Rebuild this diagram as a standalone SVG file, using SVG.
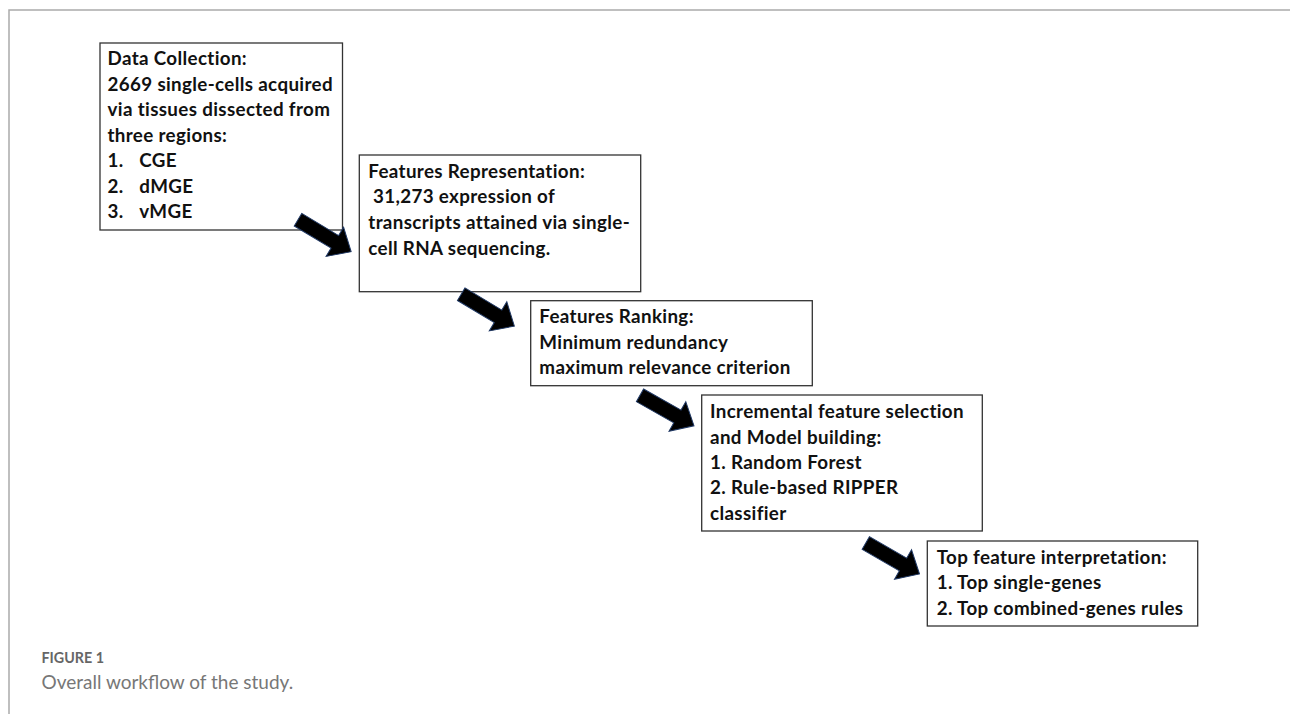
<svg xmlns="http://www.w3.org/2000/svg" width="1290" height="714" viewBox="0 0 1290 714">
<style>
.box{fill:#fff;stroke:#333;stroke-width:1.3}
.t{font-family:Lato,"Liberation Sans",sans-serif;font-weight:700;font-size:18.8px;letter-spacing:0.35px;fill:#111}
.arr{fill:#000;stroke:#1f3864;stroke-width:1;stroke-linejoin:miter}
.frame{stroke:#aaa;stroke-width:1.5;fill:none}
.cap1{font-family:Lato,"Liberation Sans",sans-serif;font-weight:700;font-size:14.3px;fill:#666}
.cap2{font-family:Lato,"Liberation Sans",sans-serif;font-weight:400;font-size:19px;fill:#777}
</style>
<defs>
<path id="arrow" class="arr" d="M0,-7.3 L43,-7.3 L43,-17 L62,0 L43,17 L43,7.3 L0,7.3 Z"/>
</defs>
<path class="frame" d="M1290,10 L9,10 L9,714"/>
<g id="node1">
<rect class="box" x="100" y="43" width="242.5" height="187"/>
<text class="t" x="107.5" y="65.3">Data Collection:</text>
<text class="t" x="107.5" y="90.7">2669 single-cells acquired</text>
<text class="t" x="107.5" y="116.3">via tissues dissected from</text>
<text class="t" x="107.5" y="141.7">three regions:</text>
<text class="t" x="107.5" y="167">1.</text><text class="t" x="139.3" y="167">CGE</text>
<text class="t" x="107.5" y="192.5">2.</text><text class="t" x="139.3" y="192.5">dMGE</text>
<text class="t" x="107.5" y="218">3.</text><text class="t" x="139.3" y="218">vMGE</text>
</g>
<g id="node2">
<rect class="box" x="359.3" y="155" width="281.4" height="136.7"/>
<text class="t" x="368.3" y="177.7">Features Representation:</text>
<text class="t" x="373" y="203.3">31,273 expression of</text>
<text class="t" x="368.3" y="229.3">transcripts attained via single-</text>
<text class="t" x="368.3" y="254.5">cell RNA sequencing.</text>
</g>
<g id="node3">
<rect class="box" x="530.7" y="300.7" width="281.6" height="85"/>
<text class="t" x="539.3" y="323.3">Features Ranking:</text>
<text class="t" x="539.3" y="349">Minimum redundancy</text>
<text class="t" x="539.3" y="374">maximum relevance criterion</text>
</g>
<g id="node4">
<rect class="box" x="701.7" y="395" width="280.6" height="136"/>
<text class="t" x="710" y="418.3">Incremental feature selection</text>
<text class="t" x="710" y="443.5">and Model building:</text>
<text class="t" x="710" y="469">1. Random Forest</text>
<text class="t" x="710" y="494.3">2. Rule-based RIPPER</text>
<text class="t" x="710" y="520">classifier</text>
</g>
<g id="node5">
<rect class="box" x="927.3" y="541" width="270.4" height="85"/>
<text class="t" x="936.7" y="564">Top feature interpretation:</text>
<text class="t" x="936.7" y="589.3">1. Top single-genes</text>
<text class="t" x="936.7" y="615">2. Top combined-genes rules</text>
</g>
<g id="connectors">
<use href="#arrow" transform="translate(298,219.7) rotate(31)"/>
<use href="#arrow" transform="translate(461.2,294.2) rotate(31)"/>
<use href="#arrow" transform="translate(640,395.3) rotate(29.5)"/>
<use href="#arrow" transform="translate(865.8,543) rotate(30)"/>
</g>
<text class="cap1" x="41.5" y="663.3">FIGURE 1</text>
<text class="cap2" x="41.5" y="689">Overall workflow of the study.</text>
</svg>
